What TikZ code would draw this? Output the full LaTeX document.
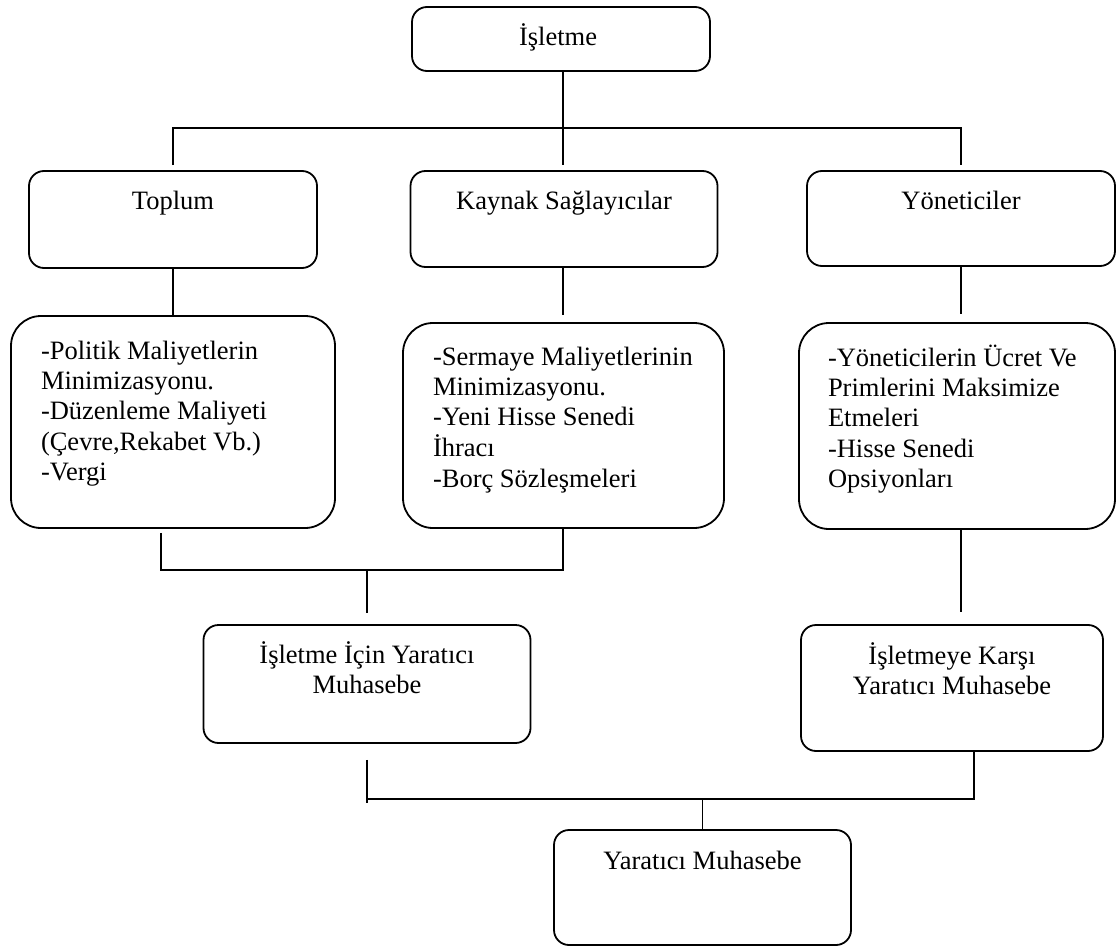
\documentclass[tikz,border=0pt]{standalone}
\usepackage{fontspec}
\setmainfont{Liberation Serif}
\usetikzlibrary{positioning}

\newcommand{\sol}[1]{\begin{tabular}[t]{@{}l@{}}#1\end{tabular}}
\newcommand{\orta}[1]{\begin{tabular}[t]{@{}c@{}}#1\end{tabular}}

\begin{document}
\begin{tikzpicture}[x=1pt, y=-1pt, line width=1.8pt,
  kutu/.style={draw, rounded corners=15pt, inner sep=0pt},
  detay/.style={draw, rounded corners=30pt, inner sep=0pt},
  yazi/.style={font=\fontsize{26.5}{30.4}\selectfont, inner sep=0pt}]

  \useasboundingbox (0,0) rectangle (1117,947);

  % Top box
  \node[kutu, minimum width=298, minimum height=64,
    label={[yazi, anchor=base, xshift=-3pt, yshift=-39pt]north:İşletme}] (isletme) at (561,39) {};

  % Parties
  \node[kutu, minimum width=288, minimum height=97,
    label={[yazi, anchor=base, yshift=-39pt]north:Toplum}] (toplum) at (173,219.5) {};
  \node[kutu, minimum width=307, minimum height=96,
    label={[yazi, anchor=base, yshift=-39pt]north:Kaynak Sağlayıcılar}] (kaynak) at (564,219) {};
  \node[kutu, minimum width=308, minimum height=95,
    label={[yazi, anchor=base, yshift=-39pt]north:Yöneticiler}] (yonetici) at (961,218.5) {};

  % Motives
  \node[detay, minimum width=324, minimum height=212,
    label={[yazi, anchor=base west, xshift=30pt, yshift=-44pt]north west:\sol{-Politik Maliyetlerin\\Minimizasyonu.\\-Düzenleme Maliyeti\\(Çevre,Rekabet Vb.)\\-Vergi}}] (toplumM) at (173,422) {};
  \node[detay, minimum width=321, minimum height=205,
    label={[yazi, anchor=base west, xshift=30pt, yshift=-43pt]north west:\sol{-Sermaye Maliyetlerinin\\Minimizasyonu.\\-Yeni Hisse Senedi\\İhracı\\-Borç Sözleşmeleri}}] (kaynakM) at (563.5,425.5) {};
  \node[detay, minimum width=316, minimum height=206,
    label={[yazi, anchor=base west, xshift=29pt, yshift=-44pt]north west:\sol{-Yöneticilerin Ücret Ve\\Primlerini Maksimize\\Etmeleri\\-Hisse Senedi\\Opsiyonları}}] (yoneticiM) at (957,426) {};

  % Results
  \node[kutu, minimum width=327, minimum height=118,
    label={[yazi, anchor=base, yshift=-39pt]north:\orta{İşletme İçin Yaratıcı\\Muhasebe}}] (icin) at (367,684) {};
  \node[kutu, minimum width=302, minimum height=126,
    label={[yazi, anchor=base, yshift=-40pt]north:\orta{İşletmeye Karşı\\Yaratıcı Muhasebe}}] (karsi) at (952,688) {};
  \node[kutu, minimum width=297, minimum height=115,
    label={[yazi, anchor=base, yshift=-40pt]north:Yaratıcı Muhasebe}] (yaratici) at (702.5,887.5) {};

  % Branch coordinates
  \coordinate (catal) at (563,128);
  \coordinate (solAlt) at (161,570);
  \coordinate (ortaAlt) at (563,570);
  \coordinate (altSol) at (367,799);
  \coordinate (altSag) at (974,799);

  % Top connectors
  \draw (catal |- isletme.south) -- ([yshift=5pt]catal |- kaynak.north);
  \draw ([yshift=5pt]toplum.north) |- (catal) -| ([yshift=5pt]yonetici.north);

  % Middle connectors
  \draw (toplum) -- (toplumM);
  \draw (ortaAlt |- kaynak.south) -- ([yshift=7pt]ortaAlt |- kaynakM.north);
  \draw (yonetici.south) -- ([yshift=8pt]yonetici.south |- yoneticiM.north);

  % Joining lines
  \draw ([yshift=-4pt]solAlt |- toplumM.south) -- (solAlt) -- (ortaAlt) -- (ortaAlt |- kaynakM.south);
  \draw (icin.north |- ortaAlt) -- ([yshift=11pt]icin.north);
  \draw (yonetici |- yoneticiM.south) -- ([yshift=12pt]yonetici |- karsi.north);

  % Bottom connectors
  \draw ([yshift=-16pt]altSol |- icin.south) -- ([yshift=-4pt]altSol);
  \draw (altSol) -- (altSag) -- (altSag |- karsi.south);
  \draw (yaratici.north) -- (yaratici.north |- altSol);

\end{tikzpicture}
\end{document}
